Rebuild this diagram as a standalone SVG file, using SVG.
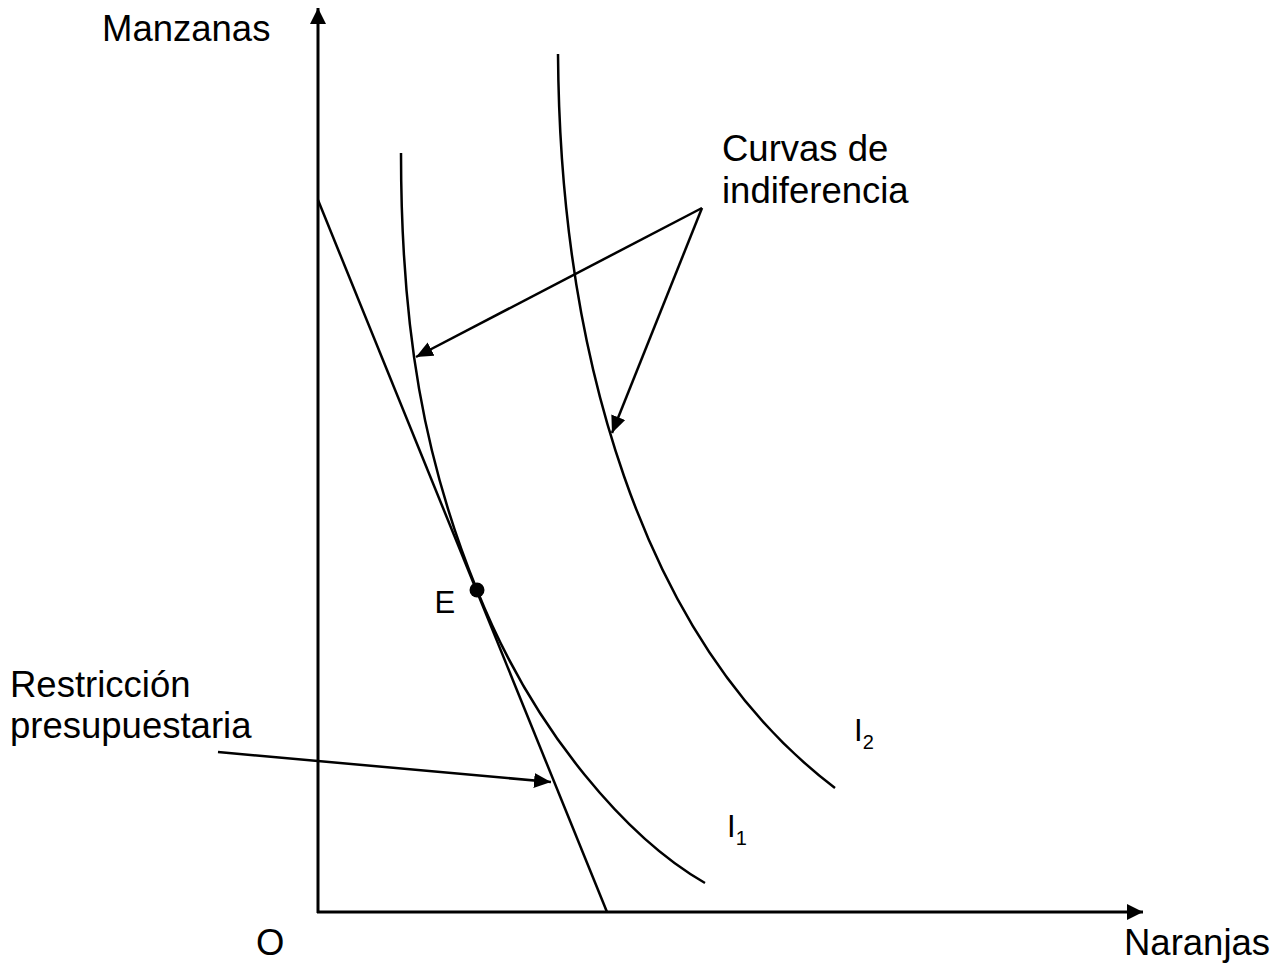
<svg xmlns="http://www.w3.org/2000/svg" width="1278" height="966" viewBox="0 0 1278 966">
<style>
text{font-family:"Liberation Sans",Arial,sans-serif;fill:#000}
.lbl{font-size:36.5px}
.sm{font-size:31px}
.sub{font-size:20px}
.ax{stroke:#000;stroke-width:3;fill:none}
.cv{stroke:#000;stroke-width:2.5;fill:none}
.ar{stroke:#000;stroke-width:2.5;fill:none;marker-end:url(#ah)}
</style>
<defs>
<marker id="ah" markerUnits="userSpaceOnUse" markerWidth="20" markerHeight="16" refX="17" refY="7.5" orient="auto">
<path d="M0,0 L17,7.5 L0,15 Z" fill="#000"/>
</marker>
<marker id="axh" markerUnits="userSpaceOnUse" markerWidth="20" markerHeight="18" refX="16" refY="8" orient="auto">
<path d="M0,0 L16,8 L0,16 Z" fill="#000"/>
</marker>
</defs>
<rect width="1278" height="966" fill="#fff"/>
<g id="axes">
<line class="ax" x1="318" y1="913" x2="318" y2="8" marker-end="url(#axh)"/>
<line class="ax" x1="317" y1="912" x2="1143" y2="912" marker-end="url(#axh)"/>
</g>
<g id="budget-line">
<line class="cv" x1="318" y1="200" x2="607" y2="912"/>
</g>
<g id="I1">
<path class="cv" d="M401,153 C401,330 424,460 477,590 C535,735 630,840 705,883"/>
</g>
<g id="I2">
<path class="cv" d="M558,54 C560,350 640,640 835,788"/>
</g>
<g id="E">
<circle cx="477" cy="590" r="7.5" fill="#000"/>
<text class="sm" x="434.5" y="613">E</text>
</g>
<g id="connectors">
<line class="ar" x1="702" y1="208" x2="416" y2="357"/>
<line class="ar" x1="702" y1="208" x2="612" y2="433"/>
<line class="ar" x1="218" y1="752" x2="551" y2="782"/>
</g>
<g id="labels">
<text class="lbl" x="102" y="41">Manzanas</text>
<text class="lbl" x="1124" y="955">Naranjas</text>
<text class="lbl" x="256" y="955">O</text>
<text class="lbl" x="722" y="161">Curvas de</text>
<text class="lbl" x="722" y="203">indiferencia</text>
<text class="lbl" x="10" y="697">Restricción</text>
<text class="lbl" x="10" y="738">presupuestaria</text>
<text class="sm" x="854" y="741">I<tspan class="sub" dy="8">2</tspan></text>
<text class="sm" x="727" y="837">I<tspan class="sub" dy="8">1</tspan></text>
</g>
</svg>
